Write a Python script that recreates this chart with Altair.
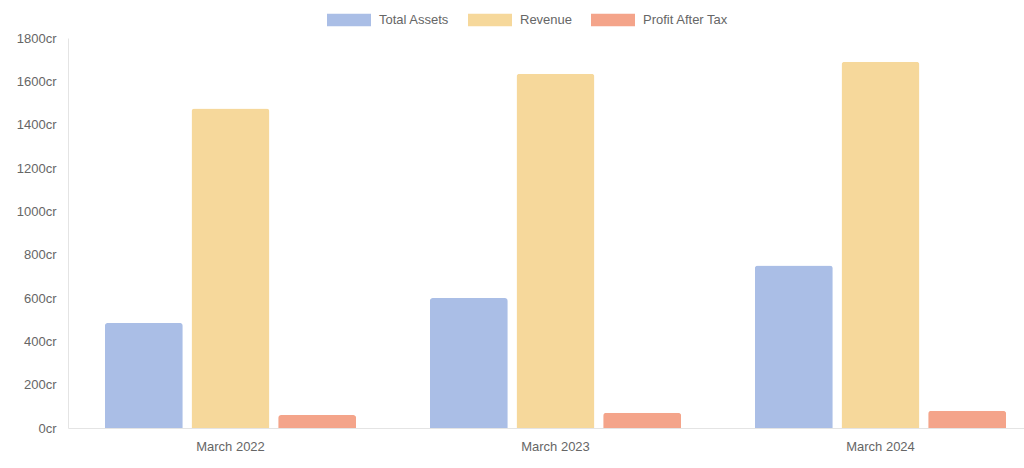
import altair as alt
import pandas as pd

categories = ["March 2022", "March 2023", "March 2024"]
series = ["Total Assets", "Revenue", "Profit After Tax"]
total_assets = [485, 600, 750]
revenue = [1475, 1635, 1690]
profit_after_tax = [60, 70, 80]
colors = ["#aabee6", "#f6d89b", "#f4a48a"]
y_ticks = [0, 200, 400, 600, 800, 1000, 1200, 1400, 1600, 1800]

rows = []
for i, c in enumerate(categories):
    rows.append({"period": c, "series": series[0], "value": total_assets[i]})
    rows.append({"period": c, "series": series[1], "value": revenue[i]})
    rows.append({"period": c, "series": series[2], "value": profit_after_tax[i]})
df = pd.DataFrame(rows)

FONT = "Liberation Sans"
GRAY = "#666666"
LINE = "#e4e4e4"

chart = alt.Chart(df).mark_bar(
    cornerRadiusTopLeft=3, cornerRadiusTopRight=3
).encode(
    x=alt.X("period:N", sort=categories, title=None,
            scale=alt.Scale(range=[0, 975], paddingInner=0, paddingOuter=0),
            axis=alt.Axis(labelAngle=0, ticks=False, grid=False, domainColor=LINE,
                          labelColor=GRAY, labelFont=FONT, labelFontSize=13,
                          labelPadding=12, domainWidth=1)),
    xOffset=alt.XOffset("series:N", sort=series,
                        scale=alt.Scale(paddingInner=0.1, paddingOuter=0.425)),
    y=alt.Y("value:Q", title=None,
            scale=alt.Scale(domain=[0, 1800], nice=False),
            axis=alt.Axis(values=y_ticks, labelExpr="datum.value + 'cr'", ticks=False,
                          grid=False, domainColor=LINE, labelColor=GRAY, labelFont=FONT,
                          labelFontSize=13, labelPadding=12, domainWidth=1)),
    color=alt.Color("series:N", sort=series,
                    scale=alt.Scale(domain=series, range=colors),
                    legend=alt.Legend(orient="none", legendX=259, legendY=-40,
                                      direction="horizontal", title=None,
                                      symbolType="M-1,-0.28L1,-0.28L1,0.28L-1,0.28Z",
                                      symbolSize=1936, symbolStrokeWidth=0,
                                      symbolOpacity=1, labelFont=FONT,
                                      labelFontSize=13, labelColor=GRAY,
                                      labelOffset=8, columnPadding=18)),
).properties(
    width=956, height=390,
    autosize=alt.AutoSizeParams(type="none"),
    padding={"left": 68, "top": 38, "right": 0, "bottom": 40},
).configure_view(stroke=None)

chart.save("out.html", embed_options={"renderer": "svg", "actions": False})
